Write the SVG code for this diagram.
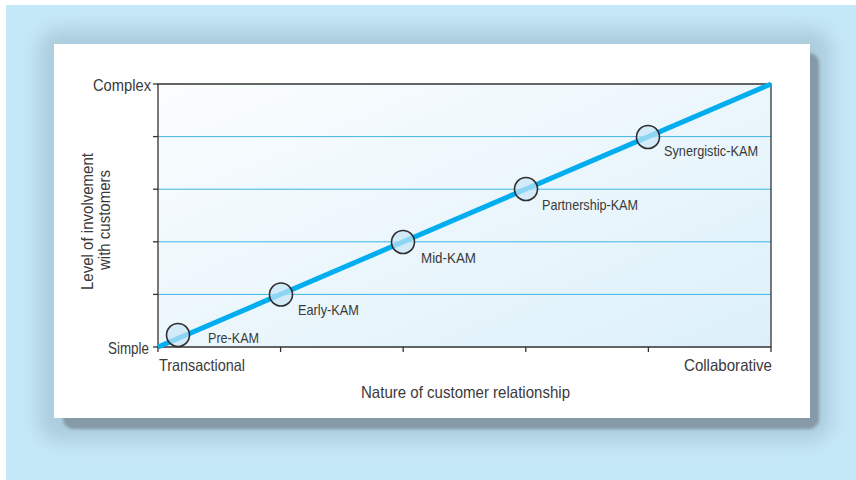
<svg xmlns="http://www.w3.org/2000/svg" width="856" height="480" viewBox="0 0 856 480">
<defs>
<style>
.t{font-family:"Liberation Sans",Arial,sans-serif;fill:#3a3a3a;font-size:16.5px}
.s{font-size:15px}
.ax{stroke:#333;stroke-width:1.3;fill:none}
.grid{stroke:#3fb6e6;stroke-width:1}
.node{fill:#c9e6f7;fill-opacity:0.7;stroke:#2e2e2e;stroke-width:1.6}
</style>
<filter id="halo" x="-10%" y="-10%" width="120%" height="120%"><feGaussianBlur stdDeviation="9"/></filter>
<filter id="sh" x="-5%" y="-5%" width="110%" height="110%"><feGaussianBlur stdDeviation="1.5"/></filter>
<linearGradient id="pg" x1="0" y1="0" x2="1" y2="1">
<stop offset="0" stop-color="#fbfdfe"/>
<stop offset="1" stop-color="#dcf0fa"/>
</linearGradient>
</defs>
<rect x="0" y="0" width="856" height="480" fill="#ffffff"/>
<rect x="6" y="5" width="850" height="475" fill="#c5e8f8"/>
<rect x="38" y="28" width="794" height="414" rx="22" fill="#98b7c8" opacity="0.55" filter="url(#halo)"/>
<rect x="63" y="53" width="756" height="376" rx="10" fill="#8599a6" filter="url(#sh)"/>
<rect x="54" y="44" width="756" height="374" fill="#ffffff"/>

<g id="plot">
<rect x="158" y="84" width="613" height="263" fill="url(#pg)"/>
<g class="grid">
<line x1="158" y1="136.6" x2="771" y2="136.6"/>
<line x1="158" y1="189.2" x2="771" y2="189.2"/>
<line x1="158" y1="241.8" x2="771" y2="241.8"/>
<line x1="158" y1="294.4" x2="771" y2="294.4"/>
</g>
<path class="ax" d="M158 84 H771 V347 H158 Z"/>
<g class="ax">
<line x1="153" y1="84" x2="158" y2="84"/>
<line x1="153" y1="136.6" x2="158" y2="136.6"/>
<line x1="153" y1="189.2" x2="158" y2="189.2"/>
<line x1="153" y1="241.8" x2="158" y2="241.8"/>
<line x1="153" y1="294.4" x2="158" y2="294.4"/>
<line x1="153" y1="347" x2="158" y2="347"/>
<line x1="158" y1="347" x2="158" y2="352"/>
<line x1="280.6" y1="347" x2="280.6" y2="352"/>
<line x1="403.2" y1="347" x2="403.2" y2="352"/>
<line x1="525.8" y1="347" x2="525.8" y2="352"/>
<line x1="648.4" y1="347" x2="648.4" y2="352"/>
<line x1="771" y1="347" x2="771" y2="352"/>
</g>
<text class="t" x="93" y="91" textLength="58" lengthAdjust="spacingAndGlyphs">Complex</text>
<text class="t" x="108" y="354" textLength="41" lengthAdjust="spacingAndGlyphs">Simple</text>
<text class="t" x="159" y="371" textLength="86" lengthAdjust="spacingAndGlyphs">Transactional</text>
<text class="t" x="684" y="371" textLength="88" lengthAdjust="spacingAndGlyphs">Collaborative</text>
<text class="t" x="361" y="398" textLength="209" lengthAdjust="spacingAndGlyphs">Nature of customer relationship</text>
<text class="t" transform="translate(93 290) rotate(-90)" textLength="137" lengthAdjust="spacingAndGlyphs">Level of involvement</text>
<text class="t" transform="translate(109.5 270) rotate(-90)" textLength="100" lengthAdjust="spacingAndGlyphs">with customers</text>
</g>

<g id="connectors">
<line x1="158" y1="347" x2="771" y2="84" stroke="#00aeef" stroke-width="5"/>
</g>

<g id="pre-kam"><circle class="node" cx="178" cy="335" r="11.5"/><text class="t s" x="208" y="343" textLength="51" lengthAdjust="spacingAndGlyphs">Pre-KAM</text></g>
<g id="early-kam"><circle class="node" cx="281" cy="294.5" r="11.5"/><text class="t s" x="298" y="315" textLength="61" lengthAdjust="spacingAndGlyphs">Early-KAM</text></g>
<g id="mid-kam"><circle class="node" cx="403" cy="242" r="11.5"/><text class="t s" x="421" y="263" textLength="55" lengthAdjust="spacingAndGlyphs">Mid-KAM</text></g>
<g id="partnership-kam"><circle class="node" cx="526" cy="189" r="11.5"/><text class="t s" x="542" y="210" textLength="96" lengthAdjust="spacingAndGlyphs">Partnership-KAM</text></g>
<g id="synergistic-kam"><circle class="node" cx="648" cy="137" r="11.5"/><text class="t s" x="664" y="156" textLength="94" lengthAdjust="spacingAndGlyphs">Synergistic-KAM</text></g>
</svg>
